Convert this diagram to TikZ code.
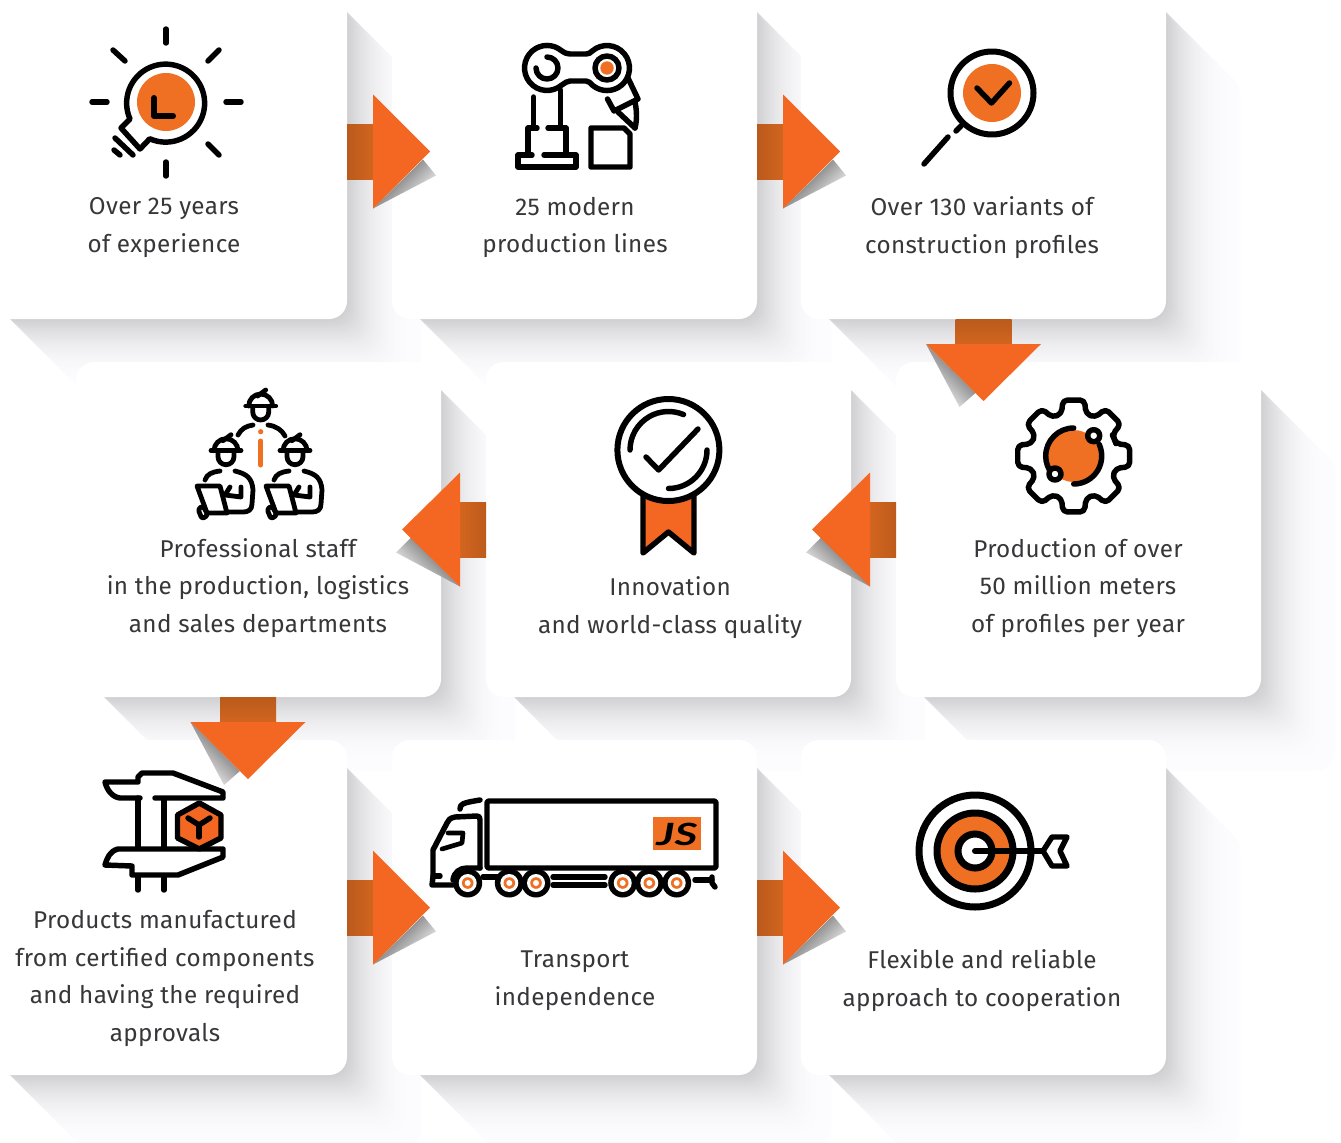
\documentclass[tikz,border=0pt]{standalone}
\usepackage{fontspec}
\setmainfont[LetterSpace=1.4]{Fira Sans}
\newfontfamily\jsfont{Lato}
\usetikzlibrary{calc}
\definecolor{ar}{HTML}{F46722}
\definecolor{io}{HTML}{EF7023}
\definecolor{bard}{HTML}{B95A1C}
\definecolor{barl}{HTML}{D2651F}
\definecolor{tx}{HTML}{37373A}
\tikzset{
 x=0.75pt,y=-0.75pt,
 card/.style={fill=white,minimum width=273.75pt,minimum height=251.25pt,rounded corners=13.5pt,inner sep=0pt,outer sep=0pt},
 lab/.style={text=tx,align=center,inner sep=0pt,font=\fontsize{18.2}{28.2}\selectfont},
 ic/.style={draw=black,line width=4.1pt,line cap=round,line join=round},
 ict/.style={draw=black,line width=3.6pt,line cap=round,line join=round},
 tri/.style={fill=ar},
}
\newcommand\cardshadow[2]{%
 \foreach \sh in {74,72,...,0}{%
  \pgfmathtruncatemacro\shv{253-47*(1-\sh/74)^2.5}%
  \pgfmathtruncatemacro\shb{\shv+2}%
  \fill[fill={rgb,255:red,\shv;green,\shv;blue,\shb},rounded corners=13.5pt]
   (#1-182.5+17.5+\sh,#2-167.5+17.5+\sh) rectangle (#1+182.5+\sh,#2+167.5+\sh);
 }}
\newcommand\rarrow[1]{\begin{scope}[shift={(#1)}]
 \shade[left color=bard,right color=barl] (0,-27.5) rectangle (26,27.5);
 \shade[top color=black!72,bottom color=white,shading angle=45] (26,57)--(89,24)--(76,8)--cycle;
 \fill[tri] (26,-57)--(83,0)--(26,57)--cycle;
 \end{scope}}
\newcommand\larrow[1]{\begin{scope}[shift={(#1)}]
 \shade[left color=barl,right color=barl!90!black] (-26,-27.5) rectangle (0,27.5);
 \shade[top color=black!72,bottom color=white,shading angle=-45] (-26,57)--(-90,23)--(-75,8)--cycle;
 \fill[tri] (-26,-57)--(-84,0)--(-26,57)--cycle;
 \end{scope}}
\newcommand\darrow[1]{\begin{scope}[shift={(#1)}]
 \shade[top color=bard,bottom color=barl] (-28,0) rectangle (28,25);
 \shade[top color=black!72,bottom color=white,shading angle=-45] (-57.5,25)--(-24,88)--(-8,74)--cycle;
 \fill[tri] (-57.5,25)--(57.5,25)--(0,82)--cycle;
 \end{scope}}
\newcommand\wkhead[2]{\begin{scope}[shift={(#1,#2)}]
 \draw[ict] (-15,0)--(15,0);
 \draw[ict] (-12,0) arc[start angle=180,end angle=360,radius=12];
 \draw[ict] (-3,-10)--(5,-16);
 \draw[ict] (-8,2)--(-8,6) arc[start angle=180,end angle=0,radius=8] --(8,2);
 \end{scope}}
\newcommand\wkbody[1]{\begin{scope}[xshift=#1*0.75pt]
 \draw[ict] (205,480) .. controls (207,474) and (212,472) .. (220,471);
 \draw[ict] (235,471) .. controls (247,474) and (252,478) .. (253,490) -- (252,504) .. controls (252,510) and (248,512) .. (243,512) -- (227,512);
 \draw[ict] (197,486)--(220,486)--(227,513)--(207,513)--cycle;
 \draw[ict,rounded corners=2pt] (198,509)--(203,506)--(208,515)--(202,519)--cycle;
 \draw[ict] (230,487)--(225,495)--(241,497)--(241,487);
 \end{scope}}
\begin{document}
\begin{tikzpicture}
\useasboundingbox (0,0) rectangle (1341,1142);
\clip (0,0) rectangle (1341,1142);
\fill[white] (0,0) rectangle (1341,1142);
% shadows
\cardshadow{164.5}{151.5}
\cardshadow{574.5}{151.5}
\cardshadow{983.5}{151.5}
\cardshadow{258.5}{529.5}
\cardshadow{668.5}{529.5}
\cardshadow{1078.5}{529.5}
\cardshadow{164.5}{907.5}
\cardshadow{574.5}{907.5}
\cardshadow{983.5}{907.5}
% cards
\node[card] (c1) at (164.5,151.5) {};
\node[card] (c2) at (574.5,151.5) {};
\node[card] (c3) at (983.5,151.5) {};
\node[card] (c4) at (258.5,529.5) {};
\node[card] (c5) at (668.5,529.5) {};
\node[card] (c6) at (1078.5,529.5) {};
\node[card] (c7) at (164.5,907.5) {};
\node[card] (c8) at (574.5,907.5) {};
\node[card] (c9) at (983.5,907.5) {};
% arrows
\rarrow{c1.east}
\rarrow{c2.east}
\darrow{c3.south}
\larrow{c6.west}
\larrow{c5.west}
\darrow{$(c4.south)+(-10.5,0)$}
\rarrow{c7.east}
\rarrow{c8.east}
% labels
\node[lab] (t1) at (164,227.5) {Over 25 years\\of experience};
\node[lab] (t2) at (575,227.5) {25 modern\\production lines};
\node[lab] (t3) at (982,227.5) {Over 130 variants of\\construction profiles};
\node[lab] (t4) at (258,588) {Professional staff\\in the production, logistics\\and sales departments};
\node[lab] (t5) at (670,607.5) {Innovation\\and world-class quality};
\node[lab] (t6) at (1078,588) {Production of over\\50 million meters\\of profiles per year};
\node[lab] (t7) at (165,978.5) {Products manufactured\\from certified components\\and having the required\\approvals};
\node[lab] (t8) at (575,980.5) {Transport\\independence};
\node[lab] (t9) at (982,980.5) {Flexible and reliable\\approach to cooperation};
% icon 1: bulb
\foreach \ax/\ay/\bx/\by in {166/29/166/43,166/162/166/176,92/102/107/102,226/102/241/102,113/50/125/61,219/50/208/61,208/144/219/155}
 \draw[ic] (\ax,\ay)--(\bx,\by);
\fill[io] (166,102) circle[radius=29];
\draw[ic] (130,119) arc[start angle=156,end angle=474,radius=39] -- (140,149) -- (121,128) -- cycle;
\draw[ic] (115,138)--(133,155);
\draw[ic] (114,150)--(120,155);
\draw[ic,line width=4.5pt] (154,98)--(154,116)--(173,116);
% icon 2: robot
\draw[ic] (561.5,85.2) arc[start angle=50,end angle=310,radius=22.5] .. controls (565,53) and (567,54) .. (570,54) -- (586,54) .. controls (589,54) and (590,53) .. (592.5,50.8) arc[start angle=230,end angle=490,radius=22.5] .. controls (590,83) and (589,81) .. (586,81) -- (570,81) .. controls (567,81) and (565,83) .. (561.5,85.2);
\draw[ic] (547,57) arc[start angle=270,end angle=540,radius=11];
\draw[ic] (607,68) circle[radius=12];
\fill[io] (607,68) circle[radius=6.7];
\draw[ic] (560.5,90)--(560.5,127);
\draw[ic] (533.6,97)--(533.6,127);
\draw[ic] (537,128)--(528,128)--(528,155);
\draw[ic] (548,128)--(566,128)--(566,155);
\draw[ic] (532,155)--(518,155)--(518,167)--(576,167)--(576,155)--(544,155);
\draw[ic] (624,128)--(591,128)--(591,167)--(630,167)--(630,134)--cycle;
\draw[ic] (627.5,77)--(638,99)--(614,111)--(607.5,99);
\draw[ic] (618,112)--(635,128);
\draw[ic] (635,102) .. controls (637,112) and (637,120) .. (635,128);
% icon 3: magnifier
\fill[io] (992,93) circle[radius=29];
\draw[ic,line width=4.5pt] (992,93) circle[radius=41.5];
\draw[ic] (977,88)--(991.5,103)--(1009.5,83);
\draw[ic] (956,131)--(961,126);
\draw[ic] (948,137)--(924,164);
% icon 4: workers
\wkhead{260.7}{406}
\wkhead{226}{450.7}
\wkhead{295}{450.7}
\draw[ict] (238,435) .. controls (241,429) and (246,426) .. (253,425);
\draw[ict] (268,425) .. controls (276,426) and (282,430) .. (285,436);
\fill[io] (260.7,431.7) circle[radius=2.6];
\draw[io,line width=3.75pt,line cap=round] (260.7,441)--(260.7,465);
\wkbody{0}
\wkbody{69}
% icon 5: badge
\draw[ic,fill=ar] (643,490)--(643,553)--(668.4,532)--(694,553)--(694,490);
\draw[ic,fill=white,line width=4.5pt] (668.4,450) circle[radius=51];
\draw[ic] (630,450) arc[start angle=180,end angle=293,radius=38.5];
\draw[ic] (707,450) arc[start angle=0,end angle=90,radius=38.5];
\draw[ic] (646,457)--(658.6,470)--(698,429);
% icon 6: gear
\begin{scope}[shift={(1073.7,456)}]
\draw[ic,rounded corners=3.5pt] (-22.5:44) \foreach \a in {0,45,...,315}{ -- ({\a-16}:44) -- ({\a-11}:57) -- ({\a+11}:57) -- ({\a+16}:44)} -- cycle;
\fill[io] (0,0) circle[radius=26];
\draw[ic] (0,-28) arc[start angle=270,end angle=140,radius=28];
\draw[ic] (0,28) arc[start angle=90,end angle=-25,radius=28];
\draw[ic,fill=white] (20,-20.3) circle[radius=6];
\draw[ic,fill=white] (-18.7,18) circle[radius=6];
\end{scope}
% icon 7: caliper
\draw[ic] (140,798)--(120,798) .. controls (112,797) and (107,790) .. (105,782) -- (138,782) -- (138,777) -- (142,773) -- (173,773) -- (223,792) -- (223,798) -- (155,798);
\draw[ic] (138,798)--(138,848);
\draw[ic] (164,800)--(164,848);
\draw[ic,fill=ar] (199.3,803)--(221,815)--(221,838)--(199.3,849)--(177.5,838)--(177.5,815)--cycle;
\draw[ic] (188,818)--(199,825)--(210,818);
\draw[ic] (199,825)--(199,837);
\draw[ic] (223,849)--(118,849) .. controls (110,851) and (107,858) .. (105,865) -- (132,866) -- (132,875) -- (178,875) -- (223,857) -- cycle;
\draw[ic] (138,877)--(138,890);
\draw[ic] (164,877)--(164,890);
% icon 8: truck
\draw[ic,rounded corners=1.5pt] (487,801) rectangle (716,868);
\fill[io] (653,817) rectangle (701,850);
\node[font=\fontsize{23}{23}\selectfont\jsfont\bfseries\itshape,text=black,inner sep=0pt] (js) at (677,834) {\scalebox{1.45}[1]{JS}};
\draw[ic] (460,809) .. controls (460,804) and (462,803) .. (480,800);
\draw[ic] (480,868)--(480,820) .. controls (480,817) and (479,816) .. (477,816) -- (455,817) .. controls (450,818) and (448,820) .. (447,823) -- (433,850)--(433,877)--(432,885)--(453,885);
\draw[ic] (453,880) .. controls (454,872) and (460,868) .. (467,868) -- (480,868);
\draw[ic] (433,876)--(440,876);
\draw[ic,line width=3.5pt] (448,833)--(463,833)--(462,843)--(442,849);
\foreach \wx in {467.7,509.3,536,622.7,649.3,676.7}{
 \fill[black] (\wx,883) circle[radius=14.5];
 \fill[white] (\wx,883) circle[radius=9];
 \fill[io] (\wx,883) circle[radius=5.8];
 \fill[white] (\wx,883) circle[radius=3];
}
\draw[ic] (483,877)--(498,877);
\draw[ic] (553,877)--(605,877);
\draw[ic] (553,885)--(605,885);
\draw[ic] (695,880)--(712,880);
\draw[ic] (712,877)--(712,883)--(715,887);
% icon 9: target
\draw[draw=black,line width=5.25pt] (975,851) circle[radius=56];
\draw[draw=black,line width=5.25pt,fill=io] (975,851) circle[radius=38];
\draw[draw=black,line width=5.25pt,fill=white] (975,851) circle[radius=17];
\draw[ic,line width=4.5pt] (975,851)--(1043,851);
\draw[ic] (1043,851)--(1052,837)--(1067,837)--(1060,851)--(1067,866)--(1052,866)--cycle;
\end{tikzpicture}
\end{document}
